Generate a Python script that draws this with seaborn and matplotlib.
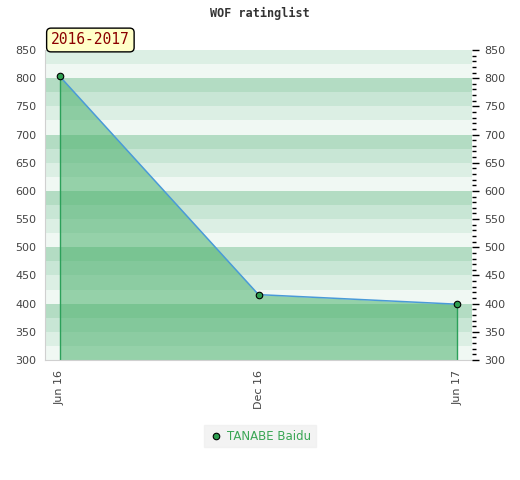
import matplotlib
matplotlib.use("Agg")
import matplotlib.pyplot as plt
from matplotlib.ticker import MultipleLocator
import seaborn as sns
import pandas as pd

# chart data
months = [0, 6, 12]
month_labels = ["Jun 16", "Dec 16", "Jun 17"]
ratings = [803, 416, 399]
player = "TANABE Baidu"
season = "2016-2017"

df = pd.DataFrame({"month": months, "rating": ratings})

sns.set_style("white")
plt.rcParams['font.family'] = ['DejaVu Sans']

fig = plt.figure(figsize=(5.2, 4.8), dpi=100)
ax = fig.add_axes([45 / 520, 1 - 360 / 480, 427 / 520, 310 / 480])

ymin, ymax = 300, 850
# striped background, 4 shades repeating every 100
band_colors = ["#f0f8f3", "#dcefe4", "#c8e6d5", "#b3dcc3"]
y = ymin
i = 0
while y < ymax:
    ax.axhspan(y, y + 25, color=band_colors[i % 4], lw=0, zorder=0)
    y += 25
    i += 1

ax.fill_between(df["month"], df["rating"], ymin, color="#49b06a", alpha=0.54, lw=0, zorder=1)
ax.vlines([months[0], months[-1]], ymin, [ratings[0], ratings[-1]], color="#2ca05a", lw=1, zorder=2)
sns.lineplot(data=df, x="month", y="rating", ax=ax, color="#4a9ad8", lw=1.1, zorder=3)
ax.scatter(months, ratings, s=22, color="#2e9e50", edgecolor="black", lw=0.8, zorder=4)

ax.set_xlim(-0.45, 12.45)
ax.set_ylim(ymin, ymax)
ax.set_xticks(months)
ax.set_xticklabels(month_labels, rotation=90, color="#444444", fontsize=8)
ax.set_yticks(range(300, 851, 50))
ax.tick_params(axis="y", length=0, labelsize=8, labelcolor="#444444", pad=6)
ax.tick_params(axis="x", length=0, pad=7)
ax.set_xlabel("")
ax.set_ylabel("")
for s in ["top", "right"]:
    ax.spines[s].set_visible(False)
for s in ["left", "bottom"]:
    ax.spines[s].set_color("#d0d0d0")

ax2 = ax.twinx()
ax2.set_ylim(ymin, ymax)
ax2.yaxis.set_major_locator(MultipleLocator(50))
ax2.yaxis.set_minor_locator(MultipleLocator(10))
ax2.tick_params(axis="y", which="major", length=5, width=1, color="black", labelsize=8, labelcolor="#444444", pad=4)
ax2.tick_params(axis="y", which="minor", length=3, width=1, color="black")
for s in ax2.spines.values():
    s.set_visible(False)

fig.text(0.5, 1 - 13 / 480, "WOF ratinglist", ha="center", va="center",
         fontsize=8.5, fontweight="bold", family="DejaVu Sans Mono", color="#333333")
fig.text(51 / 520, 1 - 40 / 480, season, ha="left", va="center", fontsize=10.5,
         family="DejaVu Sans Mono", color="#8b0000",
         bbox=dict(boxstyle="round,pad=0.3,rounding_size=0.3", fc="#ffffc8", ec="black", lw=1))

leg_handle = ax.scatter([], [], s=22, color="#2e9e50", edgecolor="black", lw=0.8)
fig.legend([leg_handle], [player], loc="center", bbox_to_anchor=(260 / 520, 1 - 436 / 480),
           frameon=True, facecolor="#f0f0f0", edgecolor="#f0f0f0", fancybox=False,
           fontsize=8.5, labelcolor="#3aa655", handletextpad=0.3, borderpad=0.4,
           handlelength=1.2)

fig.savefig("out.png", dpi=100)
